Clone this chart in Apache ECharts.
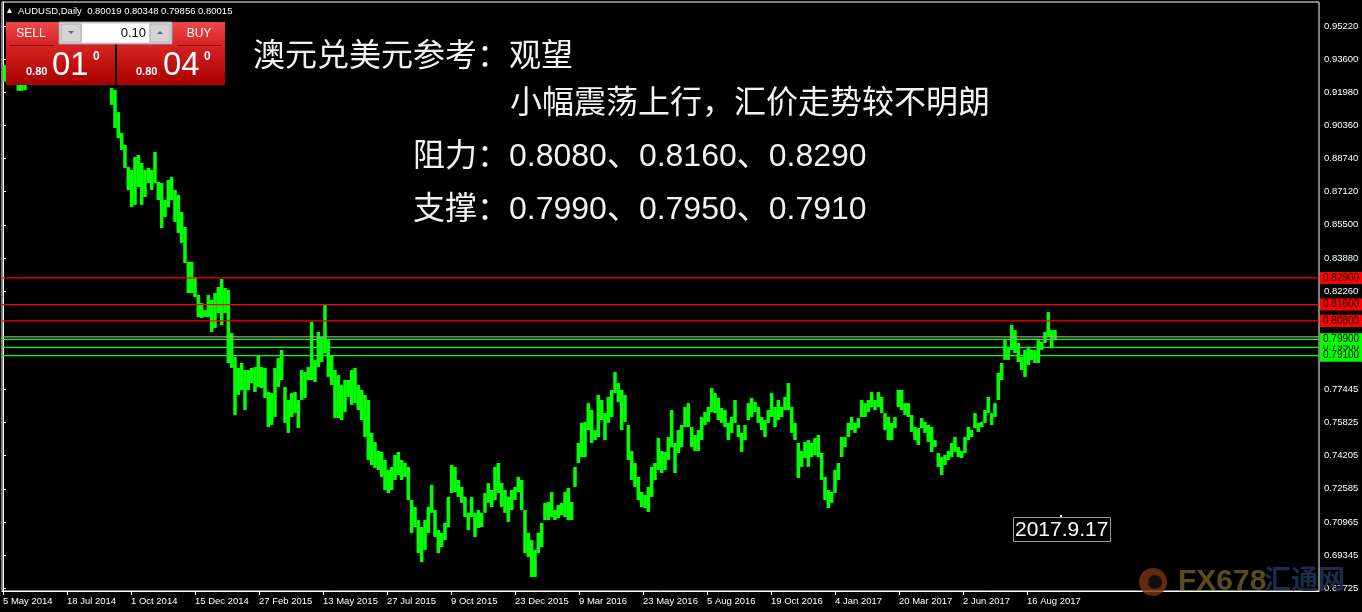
<!DOCTYPE html>
<html><head><meta charset="utf-8">
<script src="https://cdn.jsdelivr.net/npm/echarts@6/dist/echarts.min.js"></script>
<style>html,body{margin:0;padding:0;background:#000;}#c{width:1362px;height:612px;}</style>
</head><body><div id="c"></div>
<script>
// ---- data (sampled every SAMPLE_STEP daily bars: high / low) ----
const sampleHigh = [
0.9330,0.9320,0.9300,0.9290,0.9270,0.9265,0.9285,0.9320,0.9360,0.9380,
0.9400,0.9420,0.9410,0.9390,0.9400,0.9430,0.9450,0.9480,0.9460,0.9400,
0.9350,0.9370,0.9360,0.9340,0.9310,0.9330,0.9370,0.9390,0.9410,0.9390,
0.9360,0.9300,0.9219,0.9209,0.9101,0.8999,0.8940,0.8833,0.8818,0.8881,
0.8891,0.8852,0.8818,0.8828,0.8818,0.8906,0.8759,0.8754,0.8671,0.8769,
0.8784,0.8720,0.8696,0.8612,0.8539,0.8368,0.8368,0.8295,0.8207,0.8167,
0.8133,0.8207,0.8182,0.8216,0.8246,0.8285,0.8241,0.8231,0.8021,0.7903,
0.7850,0.7874,0.7840,0.7840,0.7850,0.7854,0.7913,0.7854,0.7850,0.7732,
0.7727,0.7850,0.7898,0.7938,0.7757,0.7693,0.7727,0.7732,0.7693,0.7840,
0.7830,0.7854,0.8075,0.7889,0.8026,0.8001,0.8163,0.7986,0.7913,0.7840,
0.7815,0.7766,0.7791,0.7791,0.7840,0.7850,0.7766,0.7742,0.7718,0.7693,
0.7532,0.7488,0.7444,0.7439,0.7400,0.7351,0.7366,0.7424,0.7439,0.7400,
0.7385,0.7366,0.7204,0.7170,0.7106,0.7072,0.7106,0.7170,0.7278,0.7155,
0.7057,0.7043,0.7092,0.7219,0.7375,0.7366,0.7302,0.7268,0.7219,0.7141,
0.7219,0.7141,0.7155,0.7141,0.7238,0.7287,0.7253,0.7366,0.7385,0.7287,
0.7253,0.7219,0.7253,0.7268,0.7317,0.7302,0.7155,0.7043,0.7008,0.6960,
0.7043,0.7092,0.7190,0.7194,0.7243,0.7155,0.7180,0.7190,0.7243,0.7263,
0.7194,0.7366,0.7483,0.7581,0.7586,0.7678,0.7644,0.7546,0.7718,0.7693,
0.7629,0.7708,0.7742,0.7830,0.7776,0.7742,0.7718,0.7571,0.7444,0.7385,
0.7317,0.7243,0.7229,0.7268,0.7366,0.7385,0.7507,0.7444,0.7439,0.7512,
0.7644,0.7483,0.7546,0.7571,0.7659,0.7678,0.7561,0.7522,0.7546,0.7610,
0.7634,0.7659,0.7752,0.7727,0.7703,0.7654,0.7644,0.7581,0.7610,0.7693,
0.7571,0.7532,0.7571,0.7678,0.7703,0.7683,0.7659,0.7610,0.7595,0.7644,
0.7727,0.7659,0.7693,0.7659,0.7708,0.7776,0.7659,0.7581,0.7483,0.7444,
0.7488,0.7497,0.7483,0.7507,0.7522,0.7434,0.7317,0.7253,0.7243,0.7351,
0.7385,0.7512,0.7512,0.7581,0.7610,0.7581,0.7605,0.7693,0.7678,0.7693,
0.7732,0.7693,0.7732,0.7708,0.7629,0.7610,0.7581,0.7610,0.7742,0.7742,
0.7678,0.7678,0.7620,0.7561,0.7556,0.7605,0.7586,0.7571,0.7561,0.7497,
0.7434,0.7414,0.7424,0.7444,0.7483,0.7512,0.7463,0.7444,0.7512,0.7561,
0.7546,0.7629,0.7581,0.7586,0.7644,0.7708,0.7629,0.7678,0.7825,0.7874,
0.7986,0.7952,0.8060,0.8035,0.7972,0.7903,0.7938,0.7952,0.7938,0.7938,
0.7986,0.7977,0.8026,0.8123,0.8035,0.8035
];
const sampleLow = [
0.9250,0.9255,0.9245,0.9240,0.9205,0.9205,0.9208,0.9250,0.9290,0.9320,
0.9330,0.9350,0.9340,0.9320,0.9350,0.9370,0.9390,0.9400,0.9380,0.9300,
0.9290,0.9300,0.9290,0.9270,0.9250,0.9260,0.9300,0.9320,0.9340,0.9330,
0.9280,0.9240,0.9136,0.9023,0.8974,0.8916,0.8828,0.8720,0.8637,0.8647,
0.8735,0.8647,0.8686,0.8754,0.8720,0.8754,0.8671,0.8534,0.8588,0.8637,
0.8671,0.8564,0.8510,0.8461,0.8363,0.8216,0.8216,0.8197,0.8099,0.8094,
0.8099,0.8099,0.8026,0.8045,0.8118,0.8060,0.8118,0.7874,0.7850,0.7620,
0.7718,0.7742,0.7644,0.7742,0.7776,0.7732,0.7757,0.7752,0.7703,0.7561,
0.7571,0.7610,0.7757,0.7791,0.7581,0.7532,0.7610,0.7629,0.7556,0.7693,
0.7703,0.7791,0.7791,0.7781,0.7854,0.7879,0.7923,0.7806,0.7766,0.7605,
0.7605,0.7595,0.7634,0.7708,0.7669,0.7678,0.7644,0.7595,0.7512,0.7400,
0.7375,0.7361,0.7351,0.7317,0.7253,0.7238,0.7253,0.7302,0.7326,0.7302,
0.7317,0.7204,0.7043,0.7072,0.6945,0.6901,0.6960,0.7043,0.7141,0.7023,
0.6945,0.6974,0.7008,0.7072,0.7238,0.7243,0.7219,0.7190,0.7121,0.7057,
0.7121,0.7023,0.7067,0.7072,0.7141,0.7190,0.7170,0.7204,0.7238,0.7170,
0.7141,0.7097,0.7155,0.7204,0.7243,0.7155,0.6945,0.6925,0.6827,0.6827,
0.6945,0.6974,0.7106,0.7106,0.7121,0.7106,0.7116,0.7131,0.7121,0.7106,
0.7106,0.7268,0.7385,0.7414,0.7414,0.7546,0.7483,0.7497,0.7512,0.7595,
0.7497,0.7581,0.7610,0.7727,0.7683,0.7546,0.7586,0.7400,0.7302,0.7268,
0.7204,0.7170,0.7165,0.7145,0.7219,0.7302,0.7351,0.7336,0.7351,0.7400,
0.7463,0.7336,0.7434,0.7463,0.7561,0.7561,0.7463,0.7444,0.7444,0.7497,
0.7571,0.7586,0.7634,0.7629,0.7595,0.7581,0.7561,0.7497,0.7532,0.7581,
0.7512,0.7439,0.7497,0.7595,0.7610,0.7634,0.7581,0.7546,0.7512,0.7581,
0.7610,0.7561,0.7595,0.7610,0.7644,0.7644,0.7532,0.7497,0.7312,0.7366,
0.7409,0.7366,0.7414,0.7424,0.7414,0.7302,0.7204,0.7165,0.7190,0.7238,
0.7302,0.7414,0.7463,0.7512,0.7546,0.7532,0.7556,0.7610,0.7610,0.7634,
0.7659,0.7644,0.7659,0.7629,0.7546,0.7497,0.7497,0.7556,0.7659,0.7644,
0.7620,0.7610,0.7537,0.7497,0.7473,0.7556,0.7532,0.7488,0.7439,0.7463,
0.7366,0.7326,0.7375,0.7400,0.7414,0.7439,0.7414,0.7409,0.7434,0.7497,
0.7512,0.7556,0.7537,0.7561,0.7581,0.7629,0.7571,0.7610,0.7693,0.7791,
0.7889,0.7889,0.7938,0.7923,0.7879,0.7840,0.7806,0.7864,0.7889,0.7874,
0.7874,0.7938,0.7972,0.8001,0.7947,0.7986
];
const SAMPLE_STEP = 10 / 3;      // daily bars per sample
const FIRST_SAMPLE_BAR = 2;      // bar index of the first sample

const dateLabels = ['5 May 2014','18 Jul 2014','1 Oct 2014','15 Dec 2014','27 Feb 2015','13 May 2015',
  '27 Jul 2015','9 Oct 2015','23 Dec 2015','9 Mar 2016','23 May 2016','5 Aug 2016','19 Oct 2016',
  '4 Jan 2017','20 Mar 2017','2 Jun 2017','16 Aug 2017'];
const BARS_PER_LABEL = 64;

const priceTicks = [0.95220,0.93600,0.91980,0.90360,0.88740,0.87120,0.85500,0.83880,0.82260,
  0.77445,0.75825,0.74205,0.72585,0.70965,0.69345,0.67725];

const resistance = [0.8290, 0.8160, 0.8080];
const support = [0.7950, 0.7990, 0.7910];
const currentPrice = 0.80015;

const headerText = 'AUDUSD,Daily  0.80019 0.80348 0.79856 0.80015';
const titleLines = ['澳元兑美元参考：观望', '小幅震荡上行，汇价走势较不明朗',
  '阻力：0.8080、0.8160、0.8290', '支撑：0.7990、0.7950、0.7910'];
const dateNote = '2017.9.17';

// ---- build ----
const X_MIN = -1, X_MAX = 1316;
const bars = sampleHigh.map((h, i) => [FIRST_SAMPLE_BAR + i * SAMPLE_STEP, sampleLow[i], h]);
const xTickVals = dateLabels.map((d, i) => i * BARS_PER_LABEL);

const chart = echarts.init(document.getElementById('c'), null, {renderer: 'canvas'});
const FONT = '"Liberation Sans", "Noto Sans CJK SC", sans-serif';

function levelSeries(v, color, labelBg) {
  return {
    type: 'line', z: 4, silent: true, clip: true,
    data: [[X_MIN, v], [X_MAX, v]],
    symbol: 'none', showSymbol: false,
    lineStyle: {color: color, width: 1.25},
    endLabel: labelBg ? {
      show: true, distance: 1, formatter: () => v.toFixed(5),
      backgroundColor: labelBg, color: '#000', fontFamily: FONT, fontSize: 10,
      padding: [1, 8, 0, 3], lineHeight: 11
    } : {show: false}
  };
}

const option = {
  backgroundColor: '#000',
  animation: false,
  grid: {left: 2, right: 43, top: 2, bottom: 21, show: true, borderColor: '#fff', borderWidth: 1, backgroundColor: 'transparent'},
  xAxis: {
    type: 'value', min: X_MIN, max: X_MAX,
    axisLine: {show: true, lineStyle: {color: '#fff', width: 1}},
    axisTick: {show: true, length: 4, lineStyle: {color: '#fff'}, customValues: xTickVals},
    axisLabel: {show: true, customValues: xTickVals, color: '#fff', fontFamily: FONT, fontSize: 9.5,
      align: 'left', margin: 6, formatter: v => dateLabels[Math.round(v / BARS_PER_LABEL)] || ''},
    splitLine: {show: false}
  },
  yAxis: {
    type: 'value', position: 'right', min: 0.67591, max: 0.96393,
    axisLine: {show: true, lineStyle: {color: '#fff', width: 1}},
    axisTick: {show: true, length: 3, lineStyle: {color: '#fff'}, customValues: priceTicks},
    axisLabel: {show: true, customValues: priceTicks, color: '#fff', fontFamily: FONT, fontSize: 9.5,
      margin: 5, formatter: v => v.toFixed(5)},
    splitLine: {show: false}
  },
  series: [
    {
      type: 'custom', clip: true, z: 3,
      data: bars,
      encode: {x: 0, y: [1, 2]},
      renderItem: function (params, api) {
        const x = api.value(0), lo = api.value(1), hi = api.value(2);
        const pt = api.coord([x, hi]);
        const pb = api.coord([x, lo]);
        const w = api.size([SAMPLE_STEP, 0])[0] + 0.2;
        return {type: 'rect', shape: {x: pt[0] - w / 2, y: pt[1], width: w, height: Math.max(1.5, pb[1] - pt[1])},
          style: {fill: '#00ff00'}};
      }
    },
    levelSeries(currentPrice, '#a0a0a0', null),
    ...resistance.map(v => levelSeries(v, '#ff0000', '#ff0000')),
    ...support.map(v => levelSeries(v, '#00ff00', '#00ff00'))
  ],
  graphic: [
    // header
    {type: 'polygon', z: 100, shape: {points: [[7, 13], [12, 13], [9.5, 8]]}, style: {fill: '#fff'}},
    {type: 'text', z: 100, x: 18, y: 11, style: {text: headerText, fill: '#fff', font: '9.5px ' + FONT, verticalAlign: 'middle'}},
    // trade panel
    {type: 'rect', z: 100, shape: {x: 6, y: 22, width: 109, height: 63}, style: {fill: new echarts.graphic.LinearGradient(0, 0, 0, 1, [{offset: 0, color: '#ec4a4a'}, {offset: 0.35, color: '#d82424'}, {offset: 1, color: '#a80000'}])}},
    {type: 'rect', z: 100, shape: {x: 117, y: 22, width: 108, height: 63}, style: {fill: new echarts.graphic.LinearGradient(0, 0, 0, 1, [{offset: 0, color: '#ec4a4a'}, {offset: 0.35, color: '#d82424'}, {offset: 1, color: '#a80000'}])}},
    {type: 'line', z: 101, shape: {x1: 9, y1: 45.5, x2: 54, y2: 45.5}, style: {stroke: '#8a0000', lineWidth: 1}},
    {type: 'line', z: 101, shape: {x1: 177, y1: 45.5, x2: 221, y2: 45.5}, style: {stroke: '#8a0000', lineWidth: 1}},
    {type: 'rect', z: 101, shape: {x: 59, y: 22, width: 113, height: 22}, style: {fill: '#e4e4e4', stroke: '#9a9a9a', lineWidth: 1}},
    {type: 'rect', z: 102, shape: {x: 61, y: 24, width: 20, height: 18}, style: {fill: '#d4d4d4', stroke: '#b0b0b0'}},
    {type: 'rect', z: 102, shape: {x: 82, y: 24, width: 67, height: 18}, style: {fill: '#ffffff'}},
    {type: 'rect', z: 102, shape: {x: 150, y: 24, width: 20, height: 18}, style: {fill: '#d4d4d4', stroke: '#b0b0b0'}},
    {type: 'polygon', z: 103, shape: {points: [[68, 31], [74, 31], [71, 34]]}, style: {fill: '#4a6a9a'}},
    {type: 'polygon', z: 103, shape: {points: [[157, 34], [163, 34], [160, 31]]}, style: {fill: '#4a6a9a'}},
    {type: 'text', z: 103, x: 146, y: 33, style: {text: '0.10', fill: '#000', font: '13px ' + FONT, align: 'right', verticalAlign: 'middle'}},
    {type: 'text', z: 103, x: 31, y: 34, style: {text: 'SELL', fill: '#fff', font: '12px ' + FONT, align: 'center', verticalAlign: 'middle'}},
    {type: 'text', z: 103, x: 199, y: 34, style: {text: 'BUY', fill: '#fff', font: '12px ' + FONT, align: 'center', verticalAlign: 'middle'}},
    {type: 'text', z: 103, x: 26, y: 72, style: {text: '0.80', fill: '#fff', font: 'bold 11px ' + FONT, verticalAlign: 'middle'}},
    {type: 'text', z: 103, x: 52, y: 66, style: {text: '01', fill: '#fff', font: '33px ' + FONT, verticalAlign: 'middle'}},
    {type: 'text', z: 103, x: 93, y: 57, style: {text: '0', fill: '#fff', font: 'bold 12px ' + FONT, verticalAlign: 'middle'}},
    {type: 'text', z: 103, x: 136, y: 72, style: {text: '0.80', fill: '#fff', font: 'bold 11px ' + FONT, verticalAlign: 'middle'}},
    {type: 'text', z: 103, x: 163, y: 66, style: {text: '04', fill: '#fff', font: '33px ' + FONT, verticalAlign: 'middle'}},
    {type: 'text', z: 103, x: 204, y: 57, style: {text: '0', fill: '#fff', font: 'bold 12px ' + FONT, verticalAlign: 'middle'}},
    // commentary
    {type: 'text', z: 100, x: 253, y: 57, style: {text: titleLines[0], fill: '#f2f2f2', font: '32px ' + FONT, verticalAlign: 'middle'}},
    {type: 'text', z: 100, x: 510, y: 104, style: {text: titleLines[1], fill: '#f2f2f2', font: '32px ' + FONT, verticalAlign: 'middle'}},
    {type: 'text', z: 100, x: 413, y: 157, style: {text: titleLines[2], fill: '#f2f2f2', font: '32px ' + FONT, verticalAlign: 'middle'}},
    {type: 'text', z: 100, x: 413, y: 210, style: {text: titleLines[3], fill: '#f2f2f2', font: '32px ' + FONT, verticalAlign: 'middle'}},
    // date note
    {type: 'rect', z: 100, shape: {x: 1013.5, y: 517.5, width: 97, height: 24}, style: {fill: '#000', stroke: '#8a96a4', lineWidth: 1}},
    {type: 'text', z: 101, x: 1015, y: 530, style: {text: dateNote, fill: '#fff', font: '21px ' + FONT, verticalAlign: 'middle'}},
    {type: 'rect', z: 100, shape: {x: 1060, y: 515, width: 2, height: 2}, style: {fill: '#fff'}},
    // watermark logo
    {type: 'circle', z: 90, shape: {cx: 1153, cy: 582, r: 14}, style: {fill: '#7a3310', opacity: 0.8}},
    {type: 'circle', z: 90, shape: {cx: 1155, cy: 582, r: 7}, style: {fill: '#101010'}},
    {type: 'text', z: 90, x: 1178, y: 582, style: {text: 'FX678', fill: '#5a4a1c', font: 'bold 30px ' + FONT, verticalAlign: 'middle'}},
    {type: 'text', z: 90, x: 1264, y: 582, style: {text: '汇通网', fill: '#1c2c4a', font: 'bold 27px ' + FONT, verticalAlign: 'middle'}}
  ]
};
chart.setOption(option);
</script>
</body></html>
